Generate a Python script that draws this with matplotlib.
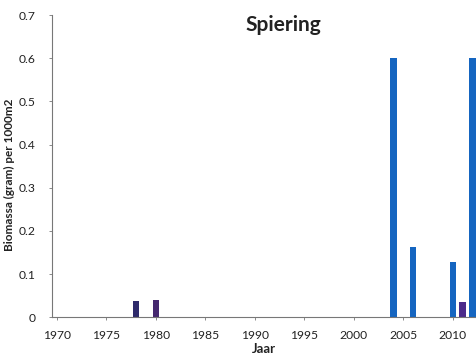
import matplotlib
matplotlib.use("Agg")
import matplotlib.pyplot as plt

years = [1978, 1980, 2004, 2006, 2010, 2011, 2012]
biomass = [0.037, 0.039, 0.60, 0.163, 0.128, 0.035, 0.60]
bar_colors = ["#2E2A6B", "#45286F", "#1565C0", "#1565C0", "#1565C0", "#4B2A8A", "#1565C0"]
yticks = [0, 0.1, 0.2, 0.3, 0.4, 0.5, 0.6, 0.7]
ytick_labels = ["0", "0.1", "0.2", "0.3", "0.4", "0.5", "0.6", "0.7"]
xticks = [1970, 1975, 1980, 1985, 1990, 1995, 2000, 2005, 2010]

plt.rcParams['font.family'] = ['Lato', 'DejaVu Sans']
fig = plt.figure(figsize=(4.77, 3.6), dpi=100)
ax = fig.add_axes([0.109, 0.119, 0.89, 0.839])
ax.bar(years, biomass, width=0.65, color=bar_colors)
ax.set_xlim(1969.5, 2012.4)
ax.set_ylim(0, 0.7)
ax.set_yticks(yticks)
ax.set_yticklabels(ytick_labels)
ax.set_xticks(xticks)
ax.tick_params(axis='both', labelsize=8.7, length=2, width=0.6, color="#777777", labelcolor="#222222")
ax.tick_params(axis='x', pad=7)
ax.tick_params(axis='y', pad=10)
for s in ["top", "right"]:
    ax.spines[s].set_visible(False)
for s in ["left", "bottom"]:
    ax.spines[s].set_color("#777777")
    ax.spines[s].set_linewidth(0.8)
ax.set_ylabel("Biomassa (gram) per 1000m2", fontsize=8.5, fontweight='bold', color="#222222")
ax.yaxis.set_label_coords(-0.088, 0.47)
ax.set_xlabel("Jaar", fontsize=9.5, fontweight='bold', color="#222222", labelpad=2)
fig.text(0.593, 0.93, "Spiering", fontsize=15, fontweight='bold', ha='center', va='center', color="#222222")
fig.savefig("out.png", dpi=100)
